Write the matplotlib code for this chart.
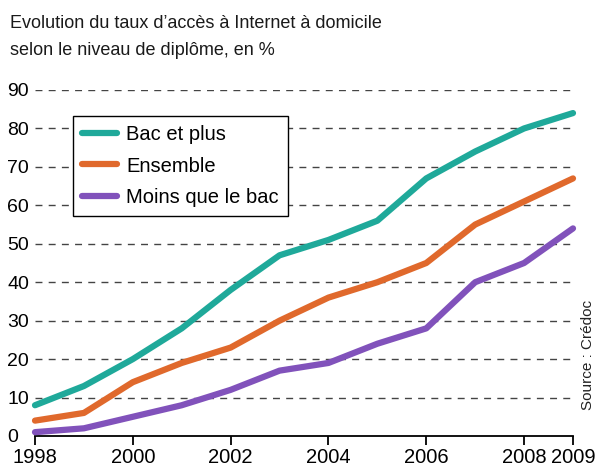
import matplotlib
matplotlib.use("Agg")
import matplotlib.pyplot as plt

years = [1998, 1999, 2000, 2001, 2002, 2003, 2004, 2005, 2006, 2007, 2008, 2009]
bac_et_plus = [8, 13, 20, 28, 38, 47, 51, 56, 67, 74, 80, 84]
ensemble = [4, 6, 14, 19, 23, 30, 36, 40, 45, 55, 61, 67]
moins_que_bac = [1, 2, 5, 8, 12, 17, 19, 24, 28, 40, 45, 54]

xticks = [1998, 2000, 2002, 2004, 2006, 2008, 2009]
yticks = [0, 10, 20, 30, 40, 50, 60, 70, 80, 90]

plt.rcParams['font.family'] = ['Liberation Sans', 'DejaVu Sans']

W, H = 595, 466
fig = plt.figure(figsize=(W / 100, H / 100), dpi=100)
fig.patch.set_facecolor('white')
ax = fig.add_axes([35 / W, 30 / H, 538 / W, 346 / H])

ax.plot(years, bac_et_plus, color='#1fa99a', lw=4.5, solid_capstyle='round',
        solid_joinstyle='round', label='Bac et plus', clip_on=False, zorder=3)
ax.plot(years, ensemble, color='#e0692c', lw=4.5, solid_capstyle='round',
        solid_joinstyle='round', label='Ensemble', clip_on=False, zorder=3)
ax.plot(years, moins_que_bac, color='#8152bb', lw=4.5, solid_capstyle='round',
        solid_joinstyle='round', label='Moins que le bac', clip_on=False, zorder=3)

for v in yticks[1:]:
    ax.axhline(v, color='#444444', lw=1.0, ls=(0, (5, 4.5)), zorder=1)

ax.set_xlim(1998, 2009)
ax.set_ylim(0, 90)
ax.set_xticks(xticks)
ax.set_yticks(yticks)
for s in ['top', 'right', 'left']:
    ax.spines[s].set_visible(False)
ax.spines['bottom'].set_linewidth(1.3)
ax.tick_params(axis='x', direction='out', length=6.5, width=1.3, pad=2, labelsize=14.5)
ax.tick_params(axis='y', length=0, pad=20, labelsize=14)
for lab in ax.get_yticklabels():
    lab.set_horizontalalignment('left')

leg = ax.legend(loc='upper left', bbox_to_anchor=((73 - 35) / 538, (436 - 116) / 346),
                fontsize=14.5, frameon=True, fancybox=False, handlelength=1.75,
                handletextpad=0.45, labelspacing=0.62, borderpad=0.45, borderaxespad=0)
leg.get_frame().set_edgecolor('black')
leg.get_frame().set_linewidth(1.0)
leg.get_frame().set_alpha(1)
leg.set_zorder(5)

fig.text(10 / W, 1 - 28 / H, "Evolution du taux d’accès à Internet à domicile",
         fontsize=13, color='#1a1a1a')
fig.text(10 / W, 1 - 55 / H, "selon le niveau de diplôme, en %",
         fontsize=13, color='#1a1a1a')
fig.text(588 / W, (466 - 355) / H, "Source : Crédoc", rotation=90,
         fontsize=11, ha='center', va='center', color='#222222')

fig.savefig('out.png', dpi=100)
